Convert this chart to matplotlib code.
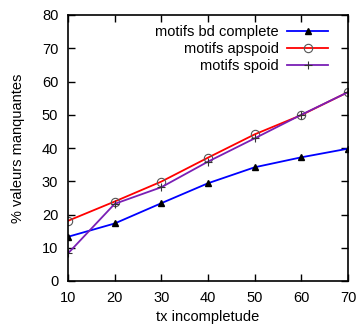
import matplotlib
matplotlib.use("Agg")
import matplotlib.pyplot as plt

x = [10, 20, 30, 40, 50, 60, 70]
bd_complete = [13.3, 17.3, 23.4, 29.4, 34.2, 37.2, 39.8]
apspoid = [18.1, 23.9, 29.9, 37.1, 44.1, 49.9, 56.8]
spoid = [8.3, 23.2, 28.2, 35.9, 42.9, 50.0, 56.8]
labels = ["motifs bd complete", "motifs apspoid", "motifs spoid"]

plt.rcParams['font.family'] = ['Liberation Sans', 'DejaVu Sans']
fig = plt.figure(figsize=(3.58, 3.24), dpi=100)
ax = fig.add_axes([68/358, 1-281/324, 280/358, 266/324])

ax.plot(x, bd_complete, color='#0000ff', lw=1.3, marker='^', ms=5,
        mfc='black', mec='black', label=labels[0])
ax.plot(x, apspoid, color='#ff0000', lw=1.3, marker='o', ms=6,
        mfc='none', mec='#555555', mew=0.8, label=labels[1])
ax.plot(x, spoid, color='#7a1fb5', lw=1.3, marker='+', ms=6,
        mec='#333333', mew=0.8, label=labels[2])

ax.set_xlim(10, 70)
ax.set_ylim(0, 80)
ax.set_xticks(range(10, 71, 10))
ax.set_yticks(range(0, 81, 10))
ax.tick_params(direction='in', length=5, width=1, top=True, right=True,
               labelsize=10.5, pad=7)
for s in ax.spines.values():
    s.set_linewidth(1.2)
ax.set_xlabel("tx incompletude", fontsize=10.5, labelpad=4)
ax.set_ylabel("% valeurs manquantes", fontsize=10.5, labelpad=12)

leg = ax.legend(loc='upper right', bbox_to_anchor=(0.95, 0.985),
                frameon=False, markerfirst=False,
                fontsize=10.5, handlelength=2.8, handletextpad=0.6,
                labelspacing=0.2, borderaxespad=0.0)
for t in leg.get_texts():
    t.set_ha('right')

fig.savefig("out.png", dpi=100)
